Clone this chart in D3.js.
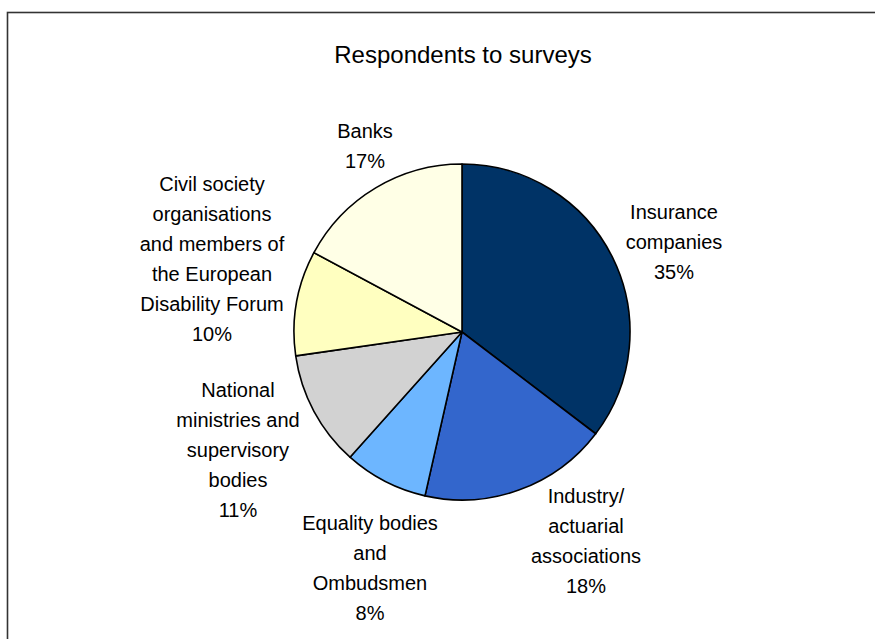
<!DOCTYPE html>
<html>
<head>
<meta charset="utf-8">
<script src="https://cdn.jsdelivr.net/npm/d3@7"></script>
<style>
  html, body { margin: 0; padding: 0; background: #ffffff; }
  svg { display: block; }
  text { font-family: "Liberation Sans", Arial, sans-serif; fill: #000; }
</style>
</head>
<body>
<svg id="chart" width="875" height="639"></svg>
<script>
// Survey respondents by type (percent shares)
const categories = [
  "Insurance companies",
  "Industry/ actuarial associations",
  "Equality bodies and Ombudsmen",
  "National ministries and supervisory bodies",
  "Civil society organisations and members of the European Disability Forum",
  "Banks"
];
const values = [35, 18, 8, 11, 10, 17];
const colors = ["#003366", "#3366CC", "#6DB6FF", "#D2D2D2", "#FFFFC0", "#FFFFE6"];

// Line breaks used in each label
const labelLines = [
  ["Insurance", "companies"],
  ["Industry/", "actuarial", "associations"],
  ["Equality bodies", "and", "Ombudsmen"],
  ["National", "ministries and", "supervisory", "bodies"],
  ["Civil society", "organisations", "and members of", "the European", "Disability Forum"],
  ["Banks"]
];
// Label block centres
const labelPos = [
  [674, 242], [586, 541], [370, 568], [238, 450], [212, 259], [365, 146]
];

const title = "Respondents to surveys";

const svg = d3.select("#chart");
const W = 875, H = 639;

// outer frame (extends past the right and bottom edges)
svg.append("rect")
  .attr("x", 7.5).attr("y", 12.5)
  .attr("width", W + 20).attr("height", H + 20)
  .attr("fill", "none")
  .attr("stroke", "#333")
  .attr("stroke-width", 1.6);

svg.append("text")
  .attr("x", 463).attr("y", 63)
  .attr("text-anchor", "middle")
  .style("font-size", "24px")
  .text(title);

const cx = 462, cy = 332, R = 168;

const pie = d3.pie().sort(null).value(d => d)
  .startAngle(0).endAngle(2 * Math.PI);
const arc = d3.arc().innerRadius(0).outerRadius(R);

const g = svg.append("g").attr("transform", `translate(${cx},${cy})`);
g.selectAll("path")
  .data(pie(values))
  .join("path")
  .attr("d", arc)
  .attr("fill", (d, i) => colors[i])
  .attr("stroke", "#000")
  .attr("stroke-width", 1.6)
  .attr("stroke-linejoin", "round");

// labels: category lines followed by the percentage
const lineH = 30;
const fmt = d => d3.format(".0f")(d) + "%";
categories.forEach((c, i) => {
  const lines = labelLines[i].concat([fmt(values[i])]);
  const [lx, ly] = labelPos[i];
  const top = ly - (lines.length - 1) * lineH / 2;
  const t = svg.append("text")
    .attr("text-anchor", "middle")
    .style("font-size", "20px");
  lines.forEach((s, j) => {
    t.append("tspan")
      .attr("x", lx)
      .attr("y", top + j * lineH + 7)
      .text(s);
  });
});
</script>
</body>
</html>
